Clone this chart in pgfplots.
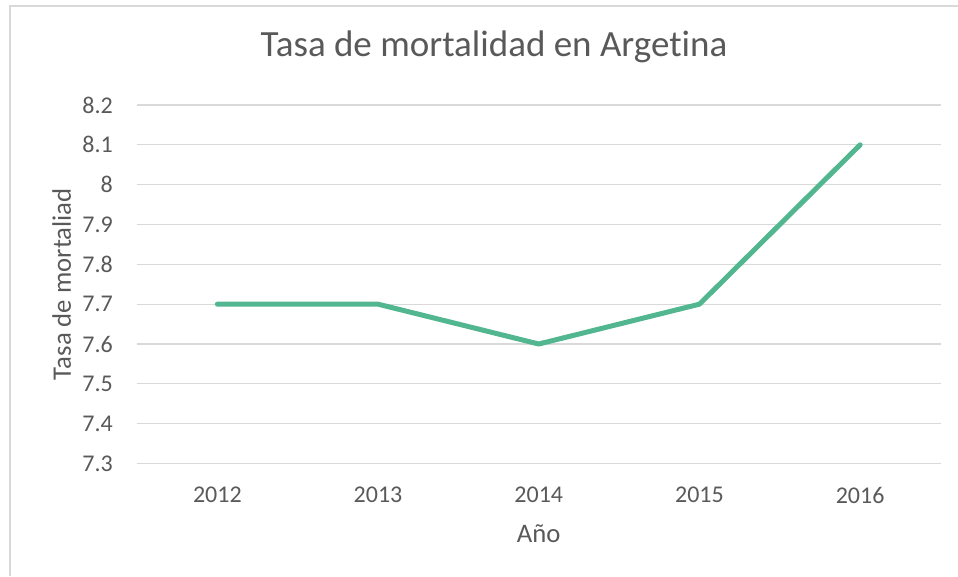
\documentclass[border=0pt]{standalone}
\usepackage{pgfplots}
\pgfplotsset{compat=1.18}
\usepackage{fontspec}
\setmainfont{Carlito}[Ligatures={NoCommon,NoRare}]

\definecolor{linegreen}{RGB}{82,182,144}
\definecolor{gridgray}{RGB}{217,217,217}
\definecolor{textgray}{RGB}{89,89,89}

\begin{document}
\begin{tikzpicture}[x=1pt,y=1pt]
  % page = 958 x 576 px, 1px = 1pt
  \path[use as bounding box] (0,0) rectangle (958,576);
  \draw[gridgray, line width=1.5pt] (10,0) -- (10,570) -- (958,570);

  \begin{axis}[
      at={(137pt,112.5pt)}, anchor=south west,
      scale only axis,
      width=803.5pt, height=358.5pt,
      xmin=-0.5, xmax=4.5,
      ymin=7.3, ymax=8.2,
      xtick={0,...,4},
      xticklabels={2012,2013,2014,2015,2016},
      ytick={7.3,7.4,7.5,7.6,7.7,7.8,7.9,8.0,8.1,8.2},
      yticklabels={7.3,7.4,7.5,7.6,7.7,7.8,7.9,8,8.1,8.2},
      axis line style={draw=none},
      tick style={draw=none},
      major tick length=0pt,
      ymajorgrids,
      grid style={gridgray, line width=1.3pt},
      /pgf/number format/assume math mode=true,
      ticklabel style={font=\fontsize{24}{28}\selectfont, text=textgray, inner sep=0pt},
      yticklabel style={anchor=east, xshift=-24pt},
      xticklabel style={anchor=north, yshift=-23.5pt},
      title={Tasa de mortalidad en Argetina},
      title style={font=\fontsize{37}{44}\selectfont, text=textgray,
        at={(axis description cs:0.4443,1.1199)}, anchor=base, inner sep=0pt},
      xlabel={Año},
      xlabel style={font=\fontsize{26.7}{32}\selectfont, text=textgray,
        at={(axis description cs:0.5,-0.219)}, anchor=base, inner sep=0pt},
      ylabel={Tasa de mortaliad},
      ylabel style={font=\fontsize{26.7}{32}\selectfont, text=textgray,
        at={(axis description cs:-0.0822,0.5)}, anchor=base, inner sep=0pt},
      clip=false,
    ]
    \addplot[color=linegreen, line width=5pt, line join=round, line cap=round]
      coordinates {(0,7.7) (1,7.7) (2,7.6) (3,7.7) (4,8.1)};
  \end{axis}
\end{tikzpicture}
\end{document}
